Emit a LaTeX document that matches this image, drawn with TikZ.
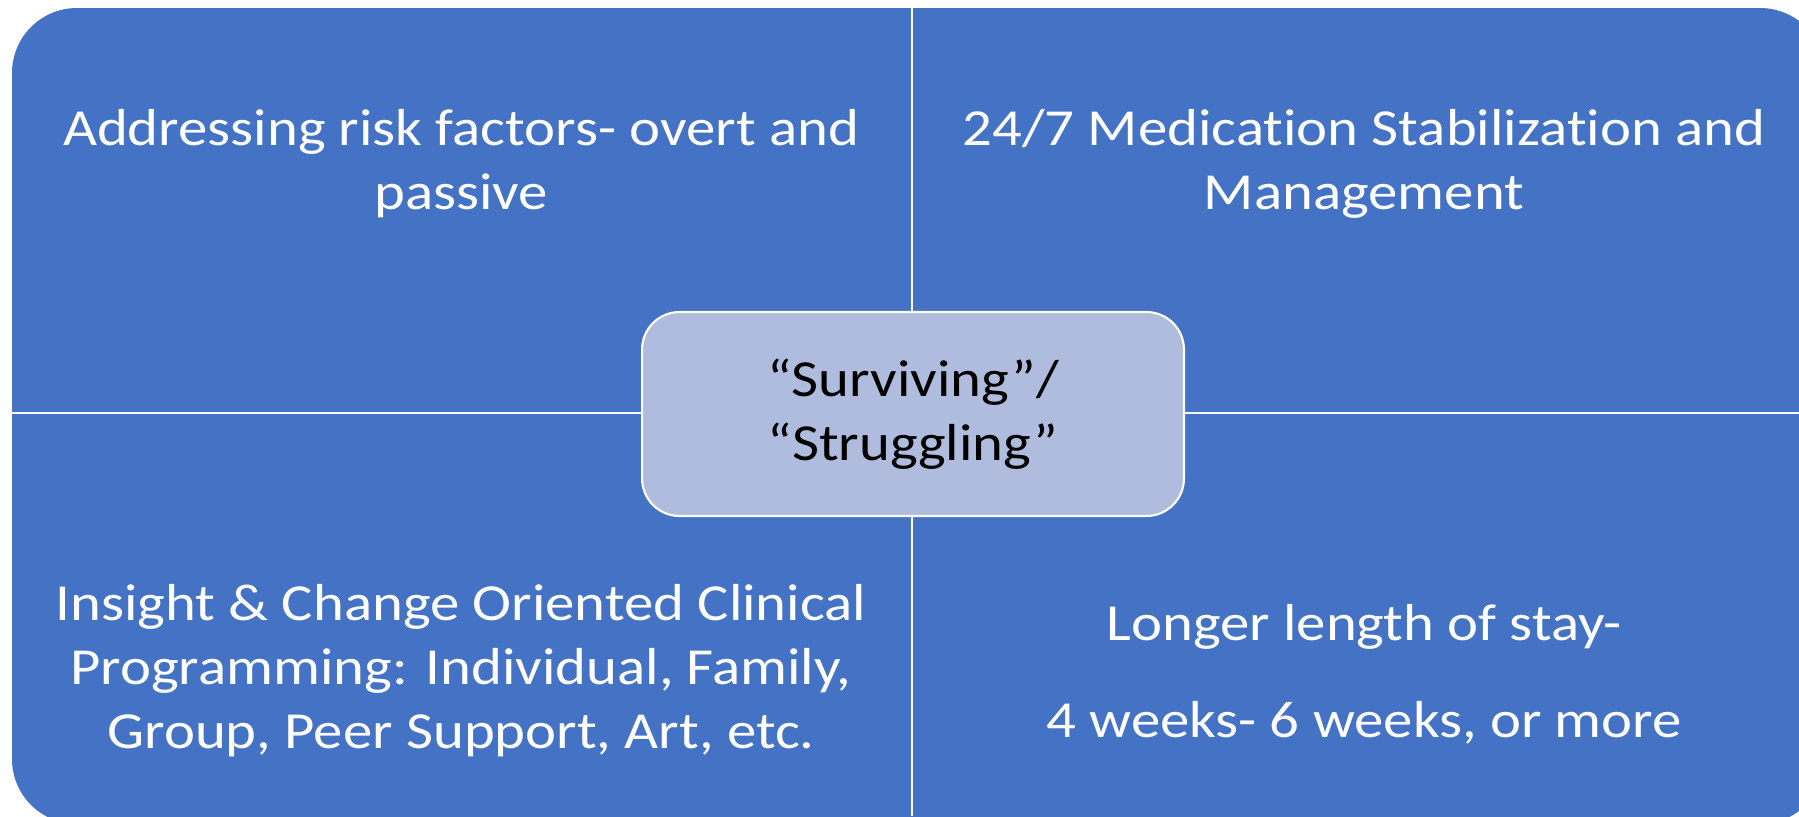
\documentclass[tikz,border=0pt]{standalone}
\usepackage{fontspec}
\setmainfont{Carlito}[FakeStretch=1.13, Ligatures=NoCommon]

\definecolor{quadblue}{HTML}{4472C4}
\definecolor{hubfill}{HTML}{B0BCDD}

\begin{document}
\begin{tikzpicture}[x=0.02cm, y=-0.02cm,
    quadtext/.style={text=white, align=center, font=\fontsize{29.6}{36.4}\selectfont},
    hubbox/.style={draw=white, line width=1.2pt, fill=hubfill, rounded corners=0.75cm,
        minimum width=10.84cm, minimum height=4.08cm, align=center,
        font=\fontsize{29.6}{36.4}\selectfont}]

    % Fix the page to the size of the reference
    \useasboundingbox (0, 0) rectangle (1799, 816);

    % Outer blue block (its right and bottom edges run off the page)
    \coordinate (TL) at (12, 8);
    \coordinate (BR) at (1825, 824);
    \fill[quadblue, rounded corners=1.3cm] (TL) rectangle (BR);

    % White dividing lines between the four quadrants
    \coordinate (T) at (912, 8);
    \coordinate (B) at (912, 816);
    \coordinate (L) at (12, 413);
    \coordinate (R) at (1799, 413);
    \draw[white, line width=1.2pt] (T) -- (B);
    \draw[white, line width=1.2pt] (L) -- (R);

    % Quadrant texts
    \node[quadtext] (risk) at (461, 164) {Addressing risk factors- overt and\\passive};
    \node[quadtext] (meds) at (1364, 164) {24/7 Medication Stabilization and\\Management};
    \node[quadtext] (prog) at (461, 671) {Insight \& Change Oriented Clinical\\Programming: Individual, Family,\\Group, Peer Support, Art, etc.};
    \node[quadtext] (stay) at (1364, 674) {Longer length of stay-\\[19pt]4 weeks- 6 weeks, or more};

    % Centre box
    \node[hubbox] (hub) at (913, 414) {“Surviving”/\\“Struggling”};

\end{tikzpicture}
\end{document}
